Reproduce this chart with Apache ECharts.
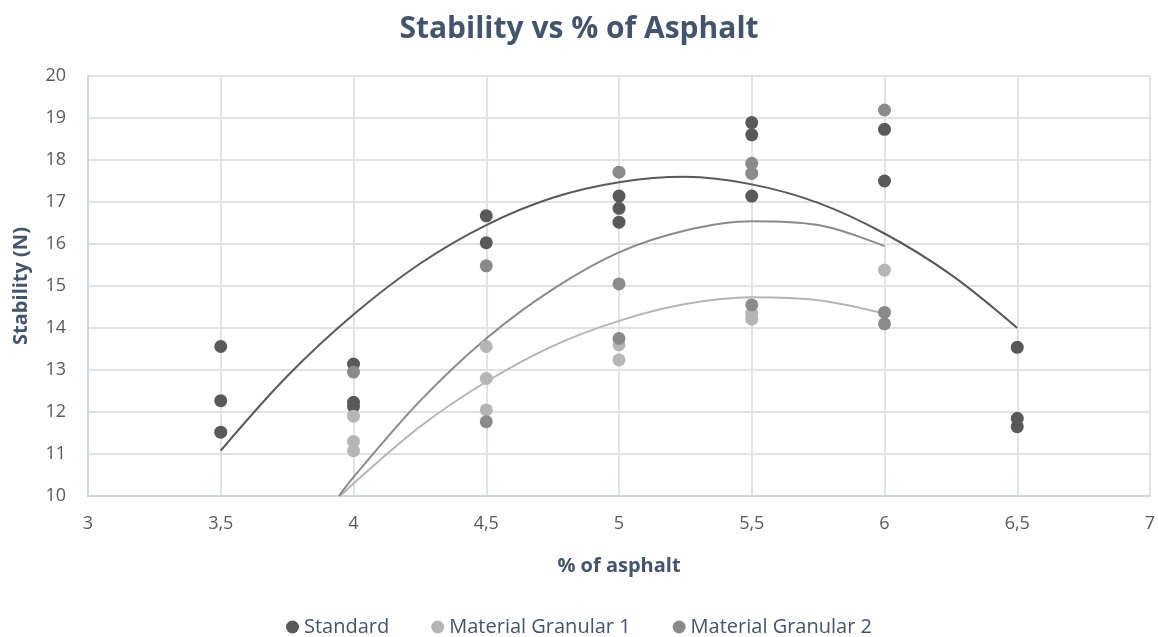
<!DOCTYPE html>
<html>
<head>
<meta charset="utf-8">
<title>Stability vs % of Asphalt</title>
<script src="https://cdn.jsdelivr.net/npm/echarts@6/dist/echarts.min.js"></script>
<style>
  html, body { margin: 0; padding: 0; background: #fff; }
  #chart { width: 1158px; height: 637px; }
</style>
</head>
<body>
<div id="chart"></div>
<script>
// measured points: [% of asphalt, stability]
const standardPts = [
  [3.5, 13.56], [3.5, 12.27], [3.5, 11.52],
  [4, 13.14], [4, 12.23], [4, 12.13],
  [4.5, 16.67], [4.5, 16.03],
  [5, 17.14], [5, 16.85], [5, 16.52],
  [5.5, 18.89], [5.5, 18.6], [5.5, 17.14],
  [6, 18.73], [6, 17.5],
  [6.5, 13.54], [6.5, 11.85], [6.5, 11.65]
]
const granular1Pts = [
  [4, 11.9], [4, 11.3], [4, 11.08],
  [4.5, 13.56], [4.5, 12.8], [4.5, 12.05],
  [5, 13.6], [5, 13.24],
  [5.5, 14.35], [5.5, 14.21],
  [6, 15.38]
]
const granular2Pts = [
  [4, 12.95],
  [4.5, 15.48], [4.5, 11.77],
  [5, 17.71], [5, 15.05], [5, 13.75],
  [5.5, 17.92], [5.5, 17.68], [5.5, 14.55],
  [6, 19.19], [6, 14.37], [6, 14.1]
]

// trendlines (poly, order 2)
const standardTrend = [
  [3.5, 11.08], [3.75, 12.85], [4, 14.32], [4.25, 15.53], [4.5, 16.45],
  [4.75, 17.1], [5, 17.47], [5.25, 17.6], [5.5, 17.42], [5.75, 16.98],
  [6, 16.25], [6.25, 15.27], [6.5, 14.0]
]
const granular1Trend = [
  [3.95, 10.0], [4, 10.3], [4.25, 11.65], [4.5, 12.72], [4.75, 13.57],
  [5, 14.17], [5.25, 14.57], [5.5, 14.73], [5.75, 14.66], [6, 14.34]
]
const granular2Trend = [
  [3.945, 10.0], [4, 10.45], [4.25, 12.26], [4.5, 13.75], [4.75, 14.92],
  [5, 15.8], [5.25, 16.32], [5.5, 16.54], [5.75, 16.45], [6, 15.95]
]

const colStandard = '#595959'
const colGranular1 = '#b5b5b5'
const colGranular2 = '#8a8a8a'
const fontFamily = '"Open Sans", "Noto Sans", sans-serif'

const chart = echarts.init(document.getElementById('chart'))

const scatter = (name, data, color) => ({
  name,
  type: 'scatter',
  data,
  symbol: 'circle',
  symbolSize: 13,
  itemStyle: { color, opacity: 1 },
  z: 3
})

const trend = (data, color) => ({
  type: 'line',
  data,
  smooth: 0.35,
  symbol: 'none',
  clip: true,
  lineStyle: { color, width: 2 },
  silent: true,
  z: 2
})

const option = {
  backgroundColor: '#fff',
  animation: false,
  textStyle: { fontFamily },
  title: {
    text: 'Stability vs % of Asphalt',
    left: 'center',
    top: 9,
    textStyle: { color: '#44546a', fontSize: 30, fontWeight: 'bold', fontFamily }
  },
  grid: { left: 88, right: 8, top: 76, bottom: 141, outerBoundsMode: 'none', containLabel: false },
  legend: {
    top: 612,
    left: 'center',
    itemGap: 42,
    itemWidth: 13,
    itemHeight: 13,
    data: [
      { name: 'Standard', icon: 'circle' },
      { name: 'Material Granular 1', icon: 'circle' },
      { name: 'Material Granular 2', icon: 'circle' }
    ],
    textStyle: { color: '#44546a', fontSize: 20, fontFamily }
  },
  xAxis: {
    type: 'value',
    min: 3,
    max: 7,
    interval: 0.5,
    name: '% of asphalt',
    nameLocation: 'middle',
    nameGap: 60,
    nameTextStyle: { color: '#44546a', fontSize: 20, fontWeight: 'bold' },
    axisLine: { show: true, lineStyle: { color: '#d0d6de', width: 2 } },
    axisTick: { show: false },
    splitLine: { show: true, lineStyle: { color: '#dfe3e8', width: 2 } },
    axisLabel: {
      color: '#595959',
      fontSize: 18,
      margin: 19,
      formatter: v => String(v).replace('.', ',')
    }
  },
  yAxis: {
    type: 'value',
    min: 10,
    max: 20,
    interval: 1,
    name: 'Stability (N)',
    nameLocation: 'middle',
    nameGap: 57,
    nameTextStyle: { color: '#44546a', fontSize: 20, fontWeight: 'bold' },
    axisLine: { show: true, lineStyle: { color: '#d0d6de', width: 2 } },
    axisTick: { show: false },
    splitLine: { show: true, lineStyle: { color: '#dfe3e8', width: 2 } },
    axisLabel: { color: '#595959', fontSize: 18, margin: 22 }
  },
  series: [
    trend(standardTrend, colStandard),
    trend(granular1Trend, colGranular1),
    trend(granular2Trend, colGranular2),
    scatter('Standard', standardPts, colStandard),
    scatter('Material Granular 1', granular1Pts, colGranular1),
    scatter('Material Granular 2', granular2Pts, colGranular2)
  ]
}

chart.setOption(option)
</script>
</body>
</html>
